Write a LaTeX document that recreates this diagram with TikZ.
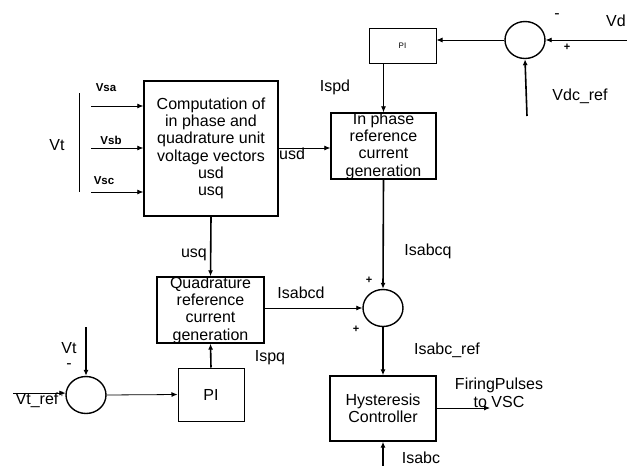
\documentclass[tikz,border=0pt]{standalone}
\usepackage{fontspec}
\setmainfont{Liberation Sans}
\usetikzlibrary{arrows.meta,shapes.geometric}
\begin{document}
\begin{tikzpicture}[x=1pt,y=-1pt,
  font=\fontsize{16}{17.3}\selectfont,
  blk/.style={draw,line width=1.4pt,inner sep=0pt},
  txt/.style={align=center,inner sep=0pt},
  lbl/.style={inner sep=0pt},
  sml/.style={inner sep=0pt,font=\fontsize{11.5}{13}\selectfont\bfseries},
  sumc/.style={draw,ellipse,line width=1.4pt,minimum width=40pt,minimum height=37pt,inner sep=0pt},
  arr/.style={line width=0.8pt,-{Latex[length=6pt,width=5pt]}},
  thk/.style={line width=1.6pt,-{Latex[length=6pt,width=5pt]}}]
\useasboundingbox (0,0) rectangle (627,466);
% computation block
\node[blk,minimum width=134pt,minimum height=135pt] (comp) at (211,148.5) {};
\node[txt] (compt) at (211,148.5) {Computation of\\in phase and\\quadrature unit\\voltage vectors\\usd\\usq};
% Vt bar and inputs
\coordinate (bart) at (79,93);
\coordinate (barb) at (79,192);
\draw[line width=1pt] (bart) -- (barb);
\node[lbl] (vtl) at (57,145) {Vt};
\coordinate (va) at (91,106);
\coordinate (vb) at (91,148);
\coordinate (vc) at (91,192);
\draw[arr] (va) -- (va -| comp.west);
\draw[arr] (vb) -- (vb -| comp.west);
\draw[arr] (vc) -- (vc -| comp.west);
\node[sml] (vsal) at (106,88) {Vsa};
\node[sml] (vsbl) at (111,140) {Vsb};
\node[sml] (vscl) at (104,181) {Vsc};
% in phase block
\node[blk,minimum width=105pt,minimum height=66pt] (inph) at (383.5,146) {};
\node[txt] (inpht) at (383.5,146) {In phase\\reference\\current\\generation};
\coordinate (usdo) at (278,148);
\draw[arr] (usdo) -- (usdo -| inph.west);
\node[lbl,anchor=west] (usdl) at (279,154) {usd};
% top PI
\node[blk,line width=1pt,minimum width=67pt,minimum height=35pt] (pia) at (402.5,45.5) {};
\node[txt,font=\fontsize{8}{9}\selectfont] (piat) at (402.5,45.5) {PI};
\draw[arr] (inph.north |- pia.south) -- (inph.north);
\node[lbl] (ispdl) at (335,87) {Ispd};
% top sum
\node[sumc] (suma) at (525,40) {};
\coordinate (vdin) at (627,40);
\draw[arr] (vdin) -- (suma.east);
\node[lbl,anchor=west] (vdl) at (606,21) {Vd};
\node[lbl] (mna) at (557,16) {-};
\node[lbl,font=\fontsize{11}{12}\selectfont\bfseries] (pla) at (567,47) {+};
\draw[arr] (suma.west) -- (suma.west -| pia.east);
\coordinate (vdcr) at (527,116);
\draw[thk] (vdcr) -- (suma.south);
\node[lbl] (vdcrl) at (580,96) {Vdc\_ref};
% quadrature block
\node[blk,minimum width=107pt,minimum height=66pt] (quad) at (210.5,310) {};
\node[txt] (quadt) at (210.5,310) {Quadrature\\reference\\current\\generation};
\draw[thk] (comp.south) -- (quad.north);
\node[lbl] (usql) at (194,255) {usq};
% bottom PI
\node[blk,line width=1pt,minimum width=66pt,minimum height=53pt] (pib) at (211,394.5) {};
\node[txt] (pibt) at (211,394.5) {PI};
\draw[thk] (pib.north) -- (quad.south);
\node[lbl] (ispql) at (270,358) {Ispq};
% middle sum
\node[sumc] (sumb) at (383,308) {};
\draw[thk] (inph.south) -- (sumb.north);
\node[lbl] (isabcql) at (428,251) {Isabcq};
\draw[arr] (quad.east |- sumb.west) -- (sumb.west);
\node[lbl] (isabcdl) at (301,293) {Isabcd};
\node[lbl,font=\fontsize{11}{12}\selectfont\bfseries] (plb) at (369,280) {+};
\node[lbl,font=\fontsize{11}{12}\selectfont\bfseries] (plc) at (356,329) {+};
% hysteresis
\node[blk,minimum width=106pt,minimum height=65pt] (hyst) at (383,408.5) {};
\node[txt] (hystt) at (383,408.5) {Hysteresis\\Controller};
\draw[thk] (sumb.south) -- (hyst.north);
\node[lbl] (isabcrl) at (447,350) {Isabc\_ref};
\coordinate (fp) at (490,408);
\draw[arr] (hyst.east |- fp) -- (fp);
\node[txt,font=\fontsize{16}{18}\selectfont] (fpl) at (499,393) {FiringPulses\\to VSC};
\coordinate (isin) at (383,466);
\draw[thk] (isin) -- (hyst.south);
\node[lbl] (isabcl) at (421,458) {Isabc};
% Vt sum
\node[sumc] (sumc) at (86,395) {};
\coordinate (vtin) at (86,327);
\draw[thk] (vtin) -- (sumc.north);
\node[lbl] (vtl2) at (69,348) {Vt};
\node[lbl] (mnb) at (69,366) {-};
\coordinate (vtr) at (13,393);
\draw[arr] (vtr) -- (vtr -| sumc.west);
\node[lbl] (vtrl) at (37,400) {Vt\_ref};
\node[lbl,font=\fontsize{10}{11}\selectfont] (pld) at (62,395) {+};
\draw[arr] (sumc.east) -- (pib.west);
\end{tikzpicture}
\end{document}
